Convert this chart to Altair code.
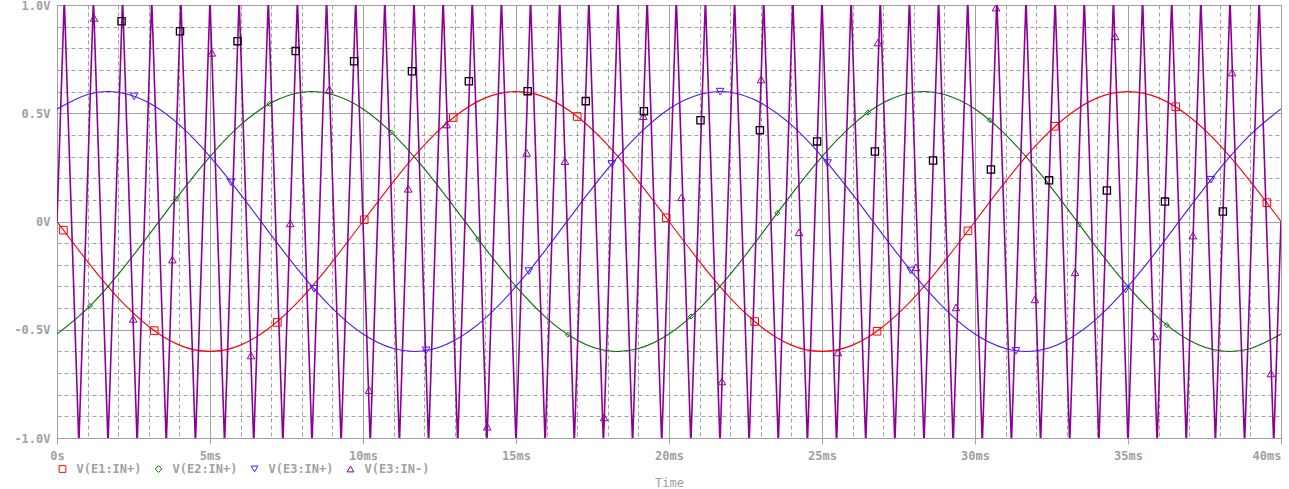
import altair as alt
import pandas as pd

GRID = "#a0a0a0"
TXT = "#a0a0a0"
FONT = "DejaVu Sans Mono"

SERIES = ["V(E1:IN+)", "V(E2:IN+)", "V(E3:IN+)", "V(E3:IN-)"]
COLORS = ["#ff0000", "#007000", "#4a14ff", "#8c0096"]
SHAPES = ["square", "diamond", "triangle-down", "triangle-up"]

# sample times of the three sine traces (ms)
time_ms = [0, 1, 2, 3, 4, 5, 6, 7, 8, 9, 10, 11, 12, 13, 14, 15, 16, 17, 18, 19, 20,
           21, 22, 23, 24, 25, 26, 27, 28, 29, 30, 31, 32, 33, 34, 35, 36, 37, 38, 39, 40]

e1_in_p = [0.0, -0.185, -0.353, -0.485, -0.571, -0.600, -0.571, -0.485, -0.353, -0.185,
           0.0, 0.185, 0.353, 0.485, 0.571, 0.600, 0.571, 0.485, 0.353, 0.185,
           0.0, -0.185, -0.353, -0.485, -0.571, -0.600, -0.571, -0.485, -0.353, -0.185,
           0.0, 0.185, 0.353, 0.485, 0.571, 0.600, 0.571, 0.485, 0.353, 0.185, 0.0]

e2_in_p = [-0.520, -0.401, -0.244, -0.063, 0.125, 0.300, 0.446, 0.548, 0.597, 0.587,
           0.520, 0.401, 0.244, 0.063, -0.125, -0.300, -0.446, -0.548, -0.597, -0.587,
           -0.520, -0.401, -0.244, -0.063, 0.125, 0.300, 0.446, 0.548, 0.597, 0.587,
           0.520, 0.401, 0.244, 0.063, -0.125, -0.300, -0.446, -0.548, -0.597, -0.587, -0.520]

e3_in_p = [0.520, 0.587, 0.597, 0.548, 0.446, 0.300, 0.125, -0.063, -0.244, -0.401,
           -0.520, -0.587, -0.597, -0.548, -0.446, -0.300, -0.125, 0.063, 0.244, 0.401,
           0.520, 0.587, 0.597, 0.548, 0.446, 0.300, 0.125, -0.063, -0.244, -0.401,
           -0.520, -0.587, -0.597, -0.548, -0.446, -0.300, -0.125, 0.063, 0.244, 0.401, 0.520]

# triangle carrier V(E3:IN-): corner times (ms) and values (V)
carrier_t = [0.0,
             0.238, 0.714, 1.190, 1.667, 2.143, 2.619, 3.095, 3.571, 4.048, 4.524,
             5.000, 5.476, 5.952, 6.429, 6.905, 7.381, 7.857, 8.333, 8.810, 9.286,
             9.762, 10.238, 10.714, 11.190, 11.667, 12.143, 12.619, 13.095, 13.571, 14.048,
             14.524, 15.000, 15.476, 15.952, 16.429, 16.905, 17.381, 17.857, 18.333, 18.810,
             19.286, 19.762, 20.238, 20.714, 21.190, 21.667, 22.143, 22.619, 23.095, 23.571,
             24.048, 24.524, 25.000, 25.476, 25.952, 26.429, 26.905, 27.381, 27.857, 28.333,
             28.810, 29.286, 29.762, 30.238, 30.714, 31.190, 31.667, 32.143, 32.619, 33.095,
             33.571, 34.048, 34.524, 35.000, 35.476, 35.952, 36.429, 36.905, 37.381, 37.857,
             38.333, 38.810, 39.286, 39.762,
             40.0]
carrier_v = [0.0,
             1.03, -1.03, 1.03, -1.03, 1.03, -1.03, 1.03, -1.03, 1.03, -1.03,
             1.03, -1.03, 1.03, -1.03, 1.03, -1.03, 1.03, -1.03, 1.03, -1.03,
             1.03, -1.03, 1.03, -1.03, 1.03, -1.03, 1.03, -1.03, 1.03, -1.03,
             1.03, -1.03, 1.03, -1.03, 1.03, -1.03, 1.03, -1.03, 1.03, -1.03,
             1.03, -1.03, 1.03, -1.03, 1.03, -1.03, 1.03, -1.03, 1.03, -1.03,
             1.03, -1.03, 1.03, -1.03, 1.03, -1.03, 1.03, -1.03, 1.03, -1.03,
             1.03, -1.03, 1.03, -1.03, 1.03, -1.03, 1.03, -1.03, 1.03, -1.03,
             1.03, -1.03, 1.03, -1.03, 1.03, -1.03, 1.03, -1.03, 1.03, -1.03,
             1.03, -1.03, 1.03, -1.03,
             0.0]

# trace markers
e1_mk_t = [0.21, 3.18, 7.20, 10.04, 12.95, 17.00, 19.91, 22.80, 26.80, 29.77, 32.60, 36.56, 39.54]
e1_mk_v = [-0.040, -0.504, -0.466, 0.008, 0.480, 0.485, 0.017, -0.462, -0.507, -0.043, 0.440, 0.530, 0.087]

e2_mk_t = [1.08, 3.89, 6.94, 10.92, 13.77, 16.70, 20.72, 23.54, 26.50, 30.49, 33.40, 36.27]
e2_mk_v = [-0.390, 0.104, 0.543, 0.412, -0.082, -0.523, -0.439, 0.039, 0.503, 0.468, -0.013, -0.479]

e3p_mk_t = [2.52, 5.69, 8.40, 12.06, 15.42, 18.13, 21.67, 25.18, 27.90, 31.34, 34.92, 37.71]
e3p_mk_v = [0.578, 0.181, -0.311, -0.595, -0.229, 0.266, 0.600, 0.270, -0.226, -0.597, -0.314, 0.193]

e3m_mk_t = [1.21, 2.49, 3.77, 5.06, 6.34, 7.62, 8.90, 10.20, 11.48, 12.73, 14.06, 15.35,
            16.60, 17.88, 19.16, 20.41, 21.73, 23.01, 24.25, 25.52, 26.83, 28.07, 29.38,
            30.69, 31.96, 33.27, 34.58, 35.88, 37.12, 38.40, 39.67]
e3m_mk_v = [0.940, -0.450, -0.176, 0.779, -0.619, -0.009, 0.610, -0.779, 0.151, 0.448, -0.948, 0.317,
            0.279, -0.905, 0.486, 0.112, -0.739, 0.656, -0.050, -0.605, 0.827, -0.212, -0.397,
            0.988, -0.360, -0.235, 0.855, -0.531, -0.065, 0.688, -0.702]

black_mk_t = [2.11, 4.02, 5.90, 7.80, 9.71, 11.60, 13.46, 15.38, 17.28, 19.18,
              21.03, 22.97, 24.84, 26.73, 28.63, 30.52, 32.42, 34.31, 36.21, 38.10]
black_mk_v = [0.925, 0.879, 0.833, 0.787, 0.740, 0.694, 0.648, 0.602, 0.556, 0.509,
              0.468, 0.422, 0.370, 0.323, 0.282, 0.240, 0.190, 0.143, 0.092, 0.046]

x_ticks = [0, 1, 2, 3, 4, 5, 6, 7, 8, 9, 10, 11, 12, 13, 14, 15, 16, 17, 18, 19, 20,
           21, 22, 23, 24, 25, 26, 27, 28, 29, 30, 31, 32, 33, 34, 35, 36, 37, 38, 39, 40]
y_ticks = [-1.0, -0.9, -0.8, -0.7, -0.6, -0.5, -0.4, -0.3, -0.2, -0.1, 0.0,
           0.1, 0.2, 0.3, 0.4, 0.5, 0.6, 0.7, 0.8, 0.9, 1.0]

# ---------- tables ----------
e1_df = pd.DataFrame({"t": time_ms, "v": e1_in_p})
e2_df = pd.DataFrame({"t": time_ms, "v": e2_in_p})
e3_df = pd.DataFrame({"t": time_ms, "v": e3_in_p})
carrier_df = pd.DataFrame({"t": carrier_t, "v": carrier_v})
marks_df = pd.concat([
    pd.DataFrame({"t": e1_mk_t, "v": e1_mk_v, "series": SERIES[0]}),
    pd.DataFrame({"t": e2_mk_t, "v": e2_mk_v, "series": SERIES[1]}),
    pd.DataFrame({"t": e3p_mk_t, "v": e3p_mk_v, "series": SERIES[2]}),
    pd.DataFrame({"t": e3m_mk_t, "v": e3m_mk_v, "series": SERIES[3]}),
], ignore_index=True)
black_df = pd.DataFrame({"t": black_mk_t, "v": black_mk_v})

# ---------- axes ----------
x_major = "datum.value % 5 === 0"
y_major = "abs(round(datum.value * 10)) % 5 === 0"

x_axis = alt.Axis(
    values=x_ticks, title="Time", grid=True, gridColor=GRID, gridWidth=1,
    gridDash={"condition": {"test": x_major, "value": []}, "value": [4, 3]},
    tickColor={"condition": {"test": x_major, "value": GRID}, "value": "transparent"},
    tickSize=6, labelPadding=6, domainColor=GRID,
    labelExpr="datum.value % 5 === 0 ? (datum.value === 0 ? '0s' : datum.value + 'ms') : ''",
    labelAlign={"condition": {"test": "datum.value === 40", "value": "right"}, "value": "center"},
    labelFlush=False, labelOverlap=False,
    titleY=44, titleBaseline="middle",
)
y_axis = alt.Axis(
    values=y_ticks, title=None, grid=True, gridColor=GRID, gridWidth=1,
    gridDash={"condition": {"test": y_major, "value": []}, "value": [4, 3]},
    ticks=False, tickSize=0, labelPadding=7, domainColor=GRID,
    labelExpr=("abs(round(datum.value * 10)) % 5 === 0 ? (datum.value === 0 ? '0V' : "
               "(datum.value < 0 ? '-' : '') + format(abs(datum.value), '.1f') + 'V') : ''"),
    labelFlush=False, labelOverlap=False,
)

X = alt.X("t:Q", scale=alt.Scale(domain=[0, 40], nice=False, zero=False), axis=x_axis)
Y = alt.Y("v:Q", scale=alt.Scale(domain=[-1, 1], nice=False, zero=False), axis=y_axis)


def sine_layer(df, color):
    return alt.Chart(df).mark_line(
        clip=True, interpolate="natural", strokeWidth=1.1, color=color
    ).encode(x=X, y=Y)


l_e1 = sine_layer(e1_df, COLORS[0])
l_e2 = sine_layer(e2_df, COLORS[1])
l_e3 = sine_layer(e3_df, COLORS[2])
carrier = alt.Chart(carrier_df).mark_line(clip=True, strokeWidth=1.6, color=COLORS[3]).encode(x=X, y=Y)

legend = alt.Legend(
    title=None, orient="none", legendX=-0.5, legendY=458, direction="horizontal",
    labelFont=FONT, labelFontSize=12, labelFontWeight="bold", labelColor=TXT,
    labelOffset=8, columnPadding=10, symbolSize=45, symbolStrokeWidth=1,
    padding=0, labelLimit=300,
)

markers = alt.Chart(marks_df).mark_point(filled=False, strokeWidth=1, clip=True, opacity=1).encode(
    x=X, y=Y,
    color=alt.Color("series:N", scale=alt.Scale(domain=SERIES, range=COLORS), legend=legend),
    shape=alt.Shape("series:N", scale=alt.Scale(domain=SERIES, range=SHAPES), legend=legend),
    size=alt.condition("datum.series === 'V(E2:IN+)'", alt.value(26), alt.value(58)),
)

black = alt.Chart(black_df).mark_point(
    shape="square", filled=False, color="black", size=52, strokeWidth=1.3, clip=True, opacity=1
).encode(x=X, y=Y)

chart = alt.layer(l_e1, l_e2, l_e3, carrier, markers, black).properties(
    width=1224, height=433,
    padding={"left": 57, "top": 5, "right": 8, "bottom": 51},
    autosize=alt.AutoSizeParams(type="none"),
    background="white",
).configure_view(
    stroke=GRID, strokeWidth=1
).configure_axis(
    labelFont=FONT, labelFontSize=12, labelFontWeight="bold", labelColor=TXT,
    titleFont=FONT, titleFontSize=12, titleFontWeight="normal", titleColor=TXT,
)

chart.save("out.html", embed_options={"renderer": "svg", "actions": False})
